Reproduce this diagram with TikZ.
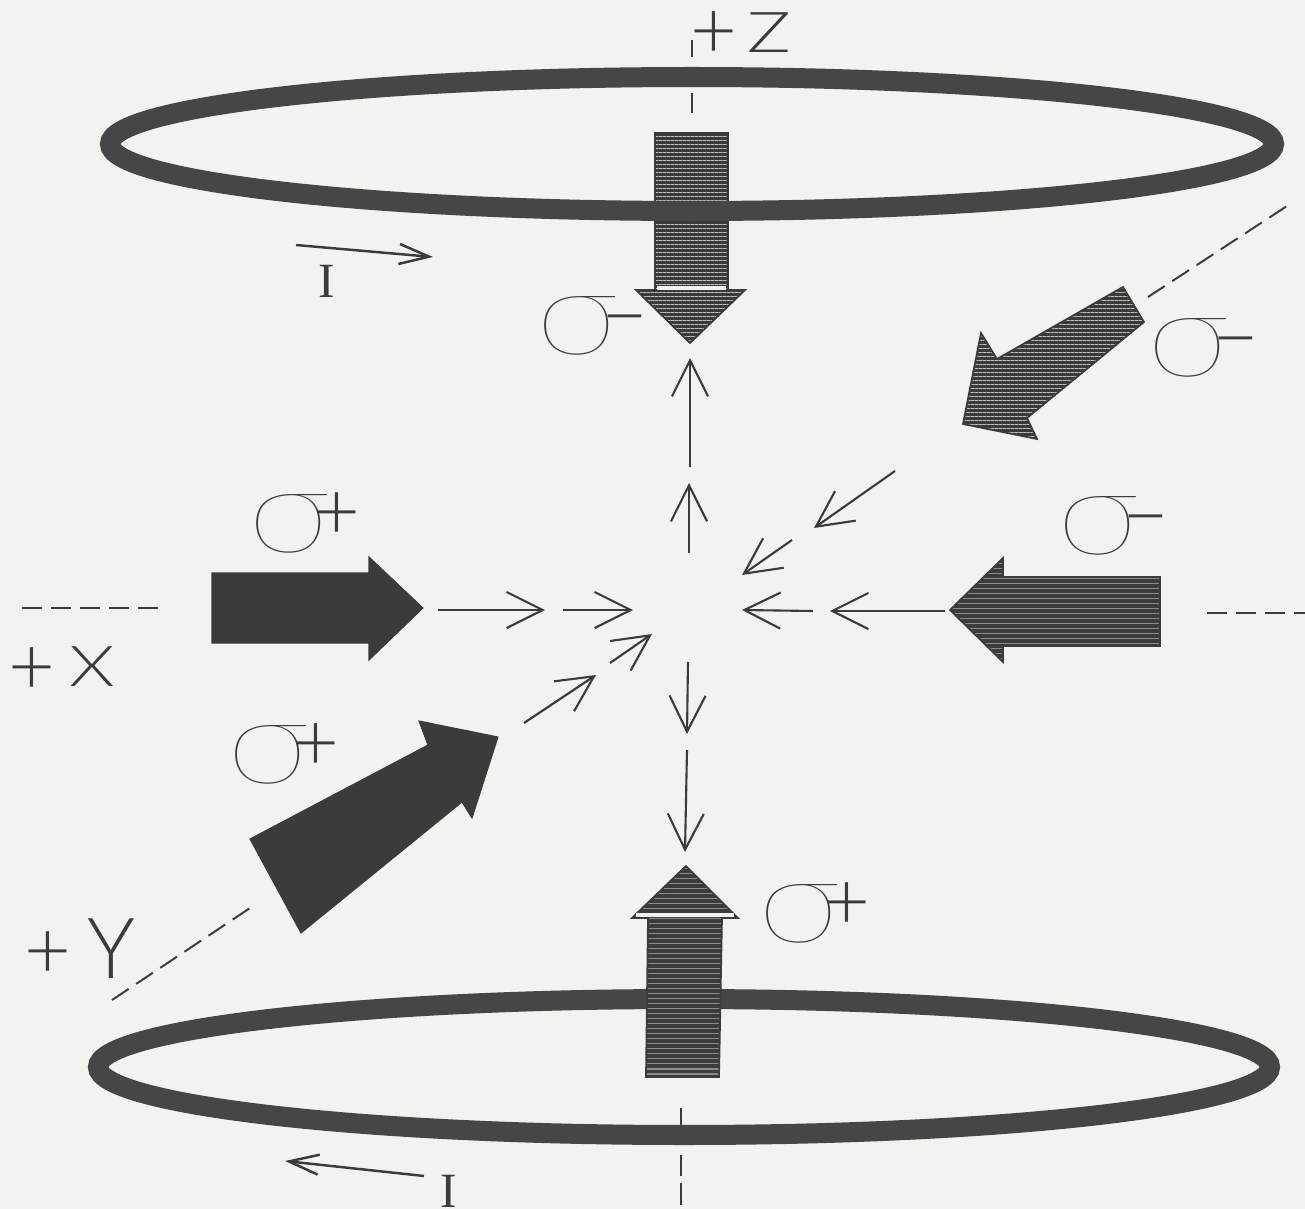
\documentclass[tikz,border=0pt]{standalone}
\usepackage{fontspec}
\setmainfont{Lato}[UprightFont=* Light]
\newfontfamily\sigmafont{Lato}[UprightFont=* Hairline]
\newfontfamily\serifletter{Liberation Serif}
\usepackage{xcolor}
\usetikzlibrary{arrows.meta,patterns.meta}
\definecolor{PaperGray}{HTML}{F2F2EE}
\definecolor{InkDark}{HTML}{3C3A3A}
\definecolor{RingGray}{HTML}{474545}
\definecolor{StripeGray}{HTML}{BDBDB9}
\definecolor{StripeDim}{HTML}{8C8C88}
\newcommand{\sigmaglyph}{\makebox[.66cm][l]{\scalebox{1.25}[1]{\sigmafont\fontsize{34}{34}\selectfont σ}}}
\newcommand{\signglyph}[1]{{\fontsize{23}{23}\selectfont #1}}
\newcommand{\axisletter}[1]{\scalebox{1.3}[1]{\fontsize{16}{16}\selectfont #1}}
\newcommand{\currentletter}{{\serifletter\fontsize{14}{14}\selectfont I}}
\tikzset{
  ringband/.style={draw=RingGray,line width=.2cm},
  beamsolid/.style={draw=InkDark,fill=InkDark,line width=.3pt},
  beamlined/.style={draw=InkDark,line width=.5pt,preaction={fill=InkDark},
    pattern={Lines[angle=0,distance=.04cm,line width=.016cm]},pattern color=StripeGray},
  beamdense/.style={draw=InkDark,line width=.5pt,preaction={fill=InkDark},
    pattern={Lines[angle=0,distance=.05cm,line width=.012cm]},pattern color=StripeDim},
  fieldarrow/.style={draw=InkDark,line width=.6pt,-{Straight Barb[length=.36cm,width=.36cm]}},
  currentarrow/.style={draw=InkDark,line width=.7pt,-{Straight Barb[length=.3cm,width=.2cm]}},
  axisline/.style={draw=InkDark,line width=.55pt,dash pattern=on .2cm off .09cm},
  labeltext/.style={text=InkDark,inner sep=0pt,anchor=base west}
}
\begin{document}
\begin{tikzpicture}[x=.01cm,y=-.01cm]
\useasboundingbox (0,0) rectangle (1305,1209);
\fill[PaperGray] (0,0) rectangle (1305,1209);

\coordinate (zaxisa) at (692,40);
\coordinate (zaxisb) at (692,113);
\coordinate (zaxisc) at (681,1108);
\coordinate (zaxisd) at (681,1205);
\coordinate (xaxisa) at (22,608);
\coordinate (xaxisb) at (162,608);
\coordinate (xaxisc) at (1207,613);
\coordinate (xaxisd) at (1305,613);
\coordinate (yaxisa) at (112,1000);
\coordinate (yaxisb) at (250,908);
\coordinate (yaxisc) at (1148,297);
\coordinate (yaxisd) at (1287,206);
\draw[axisline,dash pattern=on .17cm off .36cm on .2cm] (zaxisa) -- (zaxisb);
\draw[axisline,dash pattern=on .18cm off .29cm on .21cm off .07cm on .22cm] (zaxisc) -- (zaxisd);
\draw[axisline] (xaxisa) -- (xaxisb);
\draw[axisline] (xaxisc) -- (xaxisd);
\draw[axisline] (yaxisa) -- (yaxisb);
\draw[axisline] (yaxisc) -- (yaxisd);

\draw[ringband] (684,1067) ellipse [x radius=586,y radius=68];

\draw[beamlined] (655,133) -- (728,133) -- (728,290) -- (745,290) -- (690,343) -- (636,290) -- (655,290) -- cycle;
\fill[PaperGray] (657,286) rectangle (726,290);
\draw[ringband] (692,144) ellipse [x radius=582,y radius=67];

\draw[beamlined] (1123,287) -- (1144,322) -- (1027,418) -- (1037,439) -- (963,424) -- (981,333) -- (997,359) -- cycle;
\draw[beamdense] (1160,577) -- (1160,646) -- (1003,646) -- (1003,662) -- (950,610) -- (1003,558) -- (1003,577) -- cycle;
\draw[beamsolid] (212,573) -- (369,573) -- (369,557) -- (423,608) -- (369,660) -- (369,643) -- (212,643) -- cycle;
\draw[beamsolid] (250,839) -- (428,745) -- (419,721) -- (498,737) -- (472,818) -- (462,802) -- (301,933) -- cycle;
\draw[beamdense] (646,1077) -- (648,918) -- (632,918) -- (686,866) -- (738,918) -- (722,918) -- (719,1077) -- cycle;
\fill[PaperGray] (636,913) rectangle (734,917);

\coordinate (zupa) at (690,467);
\coordinate (zupb) at (690,358);
\coordinate (zupc) at (689,553);
\coordinate (zupd) at (689,483);
\coordinate (zdowna) at (688,662);
\coordinate (zdownb) at (687,734);
\coordinate (zdownc) at (687,750);
\coordinate (zdownd) at (685,852);
\coordinate (xinla) at (438,610);
\coordinate (xinlb) at (545,610);
\coordinate (xinlc) at (563,610);
\coordinate (xinld) at (633,610);
\coordinate (xinra) at (945,611);
\coordinate (xinrb) at (830,611);
\coordinate (xinrc) at (813,611);
\coordinate (xinrd) at (742,610);
\coordinate (yinra) at (895,471);
\coordinate (yinrb) at (814,528);
\coordinate (yinrc) at (792,540);
\coordinate (yinrd) at (742,575);
\coordinate (yinla) at (524,723);
\coordinate (yinlb) at (596,675);
\coordinate (yinlc) at (610,663);
\coordinate (yinld) at (652,634);
\draw[fieldarrow] (zupa) -- (zupb);
\draw[fieldarrow] (zupc) -- (zupd);
\draw[fieldarrow] (zdowna) -- (zdownb);
\draw[fieldarrow] (zdownc) -- (zdownd);
\draw[fieldarrow] (xinla) -- (xinlb);
\draw[fieldarrow] (xinlc) -- (xinld);
\draw[fieldarrow] (xinra) -- (xinrb);
\draw[fieldarrow] (xinrc) -- (xinrd);
\draw[fieldarrow] (yinra) -- (yinrb);
\draw[fieldarrow] (yinrc) -- (yinrd);
\draw[fieldarrow] (yinla) -- (yinlb);
\draw[fieldarrow] (yinlc) -- (yinld);

\coordinate (currenta) at (296,245);
\coordinate (currentb) at (433,257);
\coordinate (currentc) at (424,1176);
\coordinate (currentd) at (285,1161);
\draw[currentarrow] (currenta) -- (currentb);
\draw[currentarrow] (currentc) -- (currentd);

\node[labeltext] (lefttop) at (535,354) {\sigmaglyph\raisebox{.1cm}{\signglyph{−}}};
\node[labeltext] (rightdiag) at (1146,376) {\sigmaglyph\raisebox{.1cm}{\signglyph{−}}};
\node[labeltext] (rightmid) at (1056,554) {\sigmaglyph\raisebox{.1cm}{\signglyph{−}}};
\node[labeltext] (leftmid) at (247,552) {\sigmaglyph\raisebox{.12cm}{\signglyph{+}}};
\node[labeltext] (leftdiag) at (226,783) {\sigmaglyph\raisebox{.12cm}{\signglyph{+}}};
\node[labeltext] (bottommid) at (757,942) {\sigmaglyph\raisebox{.12cm}{\signglyph{+}}};
\node[labeltext] (zlabel) at (690,52) {\raisebox{-.06cm}{\signglyph{+}}\kern.1cm\axisletter{Z}};
\node[labeltext] (xlabel) at (8,686) {\raisebox{-.08cm}{\signglyph{+}}\kern.14cm\axisletter{X}};
\node[labeltext] (ylabel) at (24,978) {\signglyph{+}\kern.16cm\scalebox{.95}[1]{\fontsize{24}{24}\selectfont Y}};
\node[labeltext] (itop) at (318,297) {\currentletter};
\node[labeltext] (ibottom) at (440,1207) {\currentletter};
\end{tikzpicture}
\end{document}
